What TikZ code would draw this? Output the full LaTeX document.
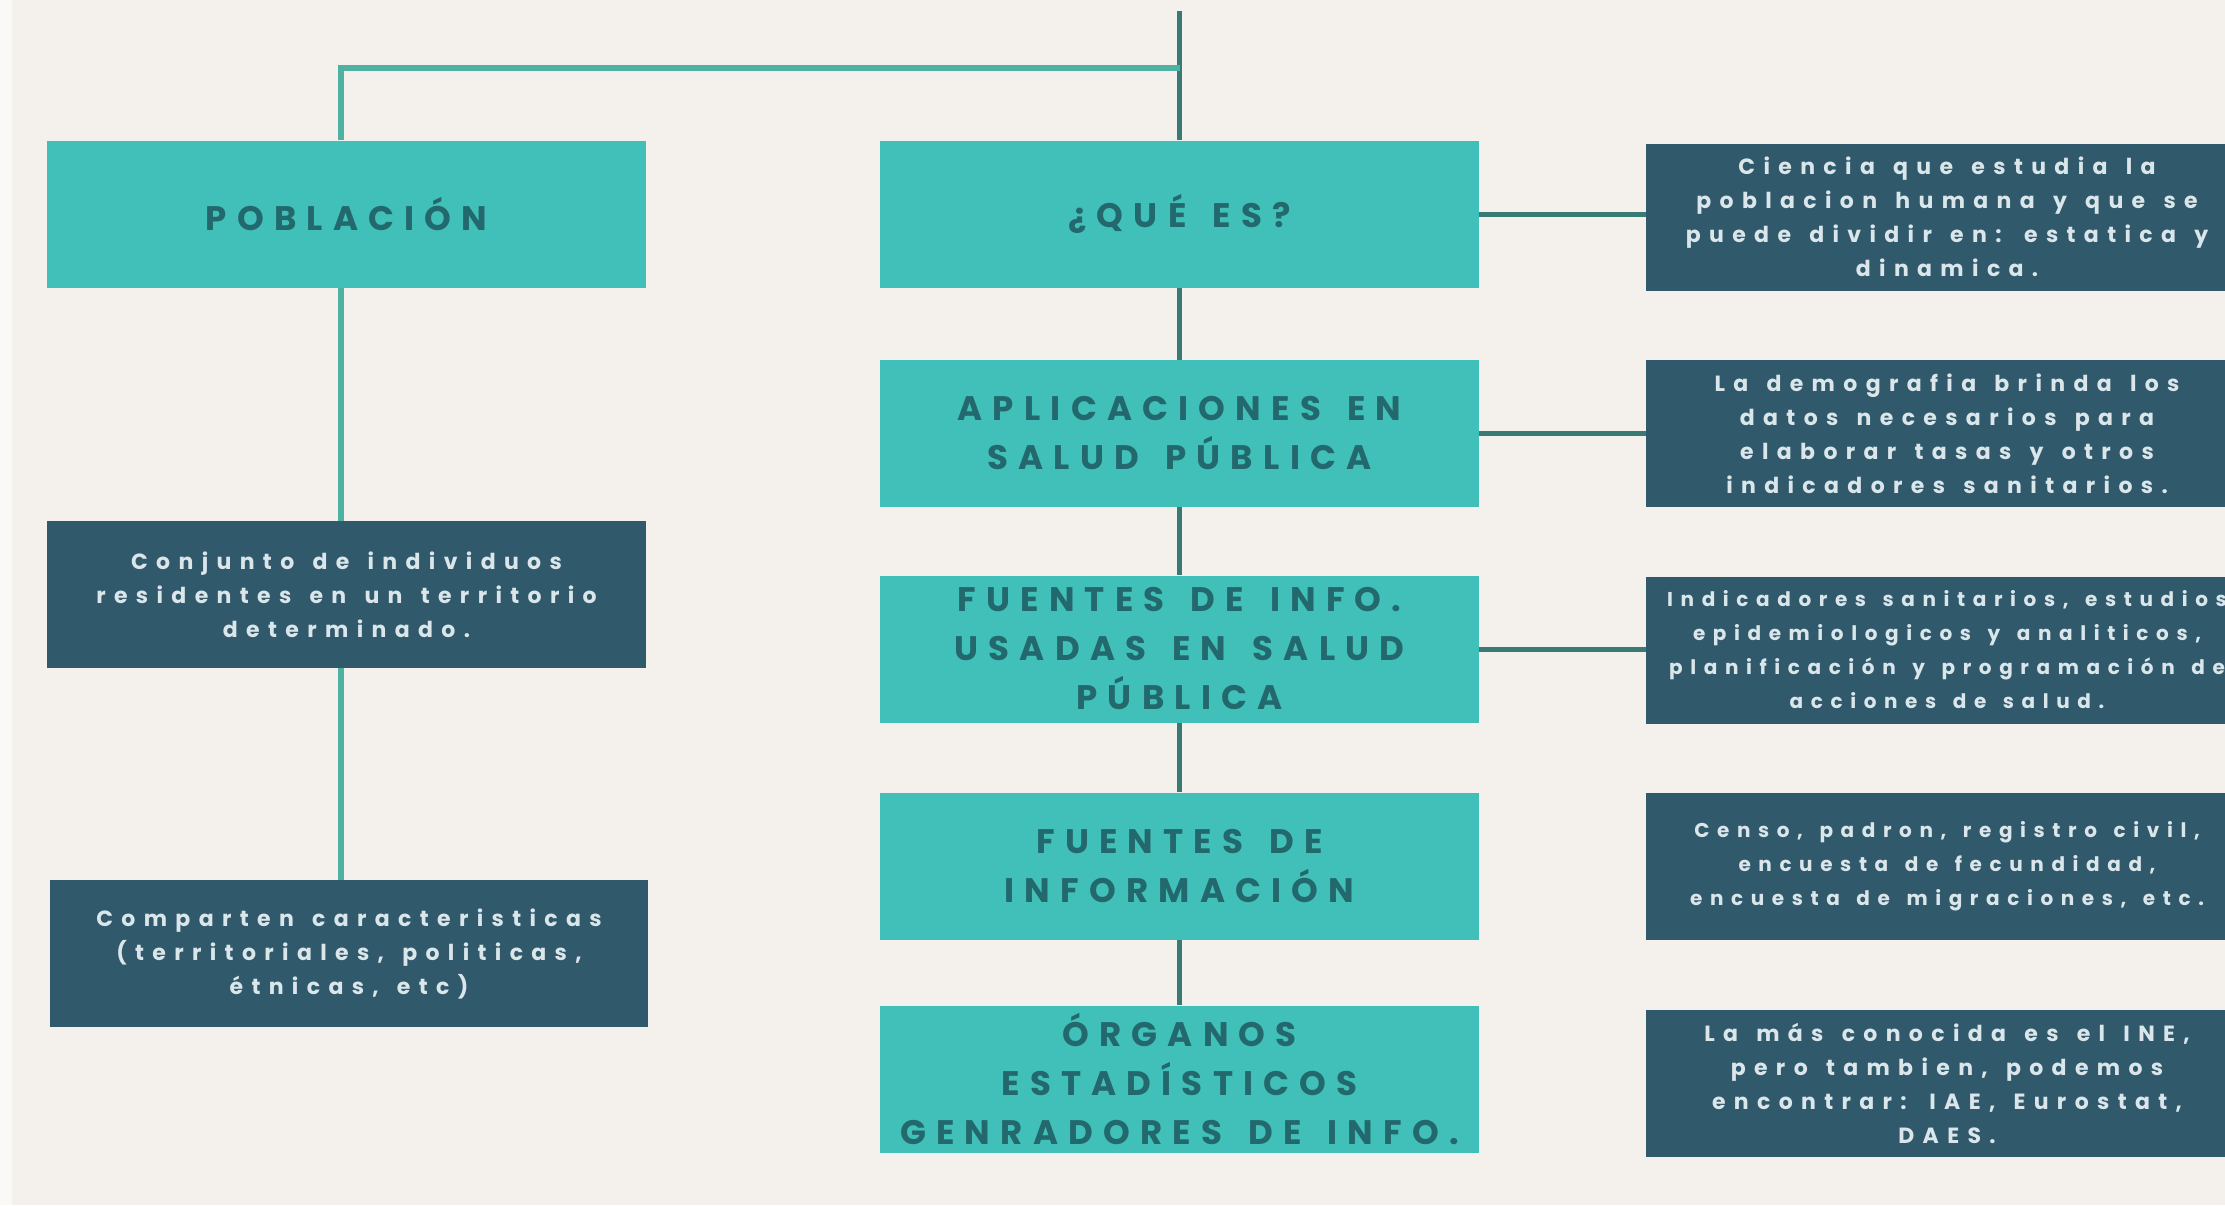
\documentclass[tikz,border=0pt]{standalone}
\usepackage{fontspec}
\newfontfamily\tfont[LetterSpace=30,WordSpace=1.5]{Poppins}
\newfontfamily\bfont[LetterSpace=38,WordSpace=1.4]{Poppins}
\definecolor{bgc}{RGB}{244,241,236}
\definecolor{tealbox}{RGB}{64,192,184}
\definecolor{darkbox}{RGB}{48,89,108}
\definecolor{ttext}{RGB}{34,104,108}
\definecolor{btext}{RGB}{218,230,234}
\definecolor{linelight}{RGB}{78,178,162}
\definecolor{linedark}{RGB}{58,122,116}
\tikzset{
  titlebox/.style={fill=tealbox, draw=none, minimum width=599pt, minimum height=147pt,
    inner sep=0pt, align=center, text=ttext,
    font=\tfont\bfseries\fontsize{34}{49}\selectfont},
  infobox/.style={fill=darkbox, draw=none, minimum width=600pt, minimum height=147pt,
    inner sep=0pt, align=center, text=btext,
    font=\bfont\bfseries\fontsize{22}{34}\selectfont},
  smallinfo/.style={font=\bfont\bfseries\fontsize{20}{34}\selectfont},
  lightline/.style={draw=linelight, line width=6pt},
  darkline/.style={draw=linedark, line width=5pt},
}
\begin{document}
\begin{tikzpicture}[x=1pt,y=-1pt]
\useasboundingbox (0,0) rectangle (2225,1205);
\clip (0,0) rectangle (2225,1205);
\fill[bgc] (0,0) rectangle (2225,1205);
\fill[white!60!bgc] (0,0) rectangle (12,1205);

% left column
\node[titlebox] (pob) at (346.5,214) {POBLACIÓN};
\node[infobox, minimum width=599pt] (conj) at (346.5,594.5) {Conjunto de individuos\\residentes en un territorio\\determinado.};
\node[infobox, minimum width=598pt] (comp) at (349,953.5) {Comparten caracteristicas\\(territoriales, politicas,\\étnicas, etc)};

% middle column
\node[titlebox] (que) at (1179.5,214) {¿QUÉ ES?};
\node[titlebox] (apl) at (1179.5,433.5) {APLICACIONES EN\\SALUD PÚBLICA};
\node[titlebox] (fui) at (1179.5,649) {FUENTES DE INFO.\\USADAS EN SALUD\\PÚBLICA};
\node[titlebox] (fin) at (1179.5,866) {FUENTES DE\\INFORMACIÓN};
\node[titlebox] (org) at (1179.5,1079) {ÓRGANOS\\ESTADÍSTICOS\\GENRADORES DE INFO.};

% right column
\node[infobox, minimum width=602pt] (r1) at (1947,217) {Ciencia que estudia la\\poblacion humana y que se\\puede dividir en: estatica y\\dinamica.};
\node[infobox, minimum width=602pt] (r2) at (1947,433.5) {La demografia brinda los\\datos necesarios para\\elaborar tasas y otros\\indicadores sanitarios.};
\node[infobox, smallinfo, minimum width=602pt] (r3) at (1947,650) {Indicadores sanitarios, estudios\\epidemiologicos y analiticos,\\planificación y programación de\\acciones de salud.};
\node[infobox, smallinfo, minimum width=602pt] (r4) at (1947,866) {Censo, padron, registro civil,\\encuesta de fecundidad,\\encuesta de migraciones, etc.};
\node[infobox, minimum width=602pt] (r5) at (1947,1083) {La más conocida es el INE,\\pero tambien, podemos\\encontrar: IAE, Eurostat,\\DAES.};

% connectors
\coordinate (topend) at (1179.5,11);
\coordinate (junc) at (1179.5,68);
\coordinate (lcol) at (341,68);
\draw[darkline] (topend) -- (que.north);
\draw[lightline] (junc) -- (lcol) -- (lcol |- pob.north);
\draw[lightline] (lcol |- pob.south) -- (lcol |- conj.north);
\draw[lightline] (lcol |- conj.south) -- (lcol |- comp.north);
\draw[darkline] (que.south) -- (apl.north);
\draw[darkline] (apl.south) -- (fui.north);
\draw[darkline] (fui.south) -- (fin.north);
\draw[darkline] (fin.south) -- (org.north);
\draw[darkline] (que.east) -- (que.east -| r1.west);
\draw[darkline] (apl.east) -- (apl.east -| r2.west);
\draw[darkline] (fui.east) -- (fui.east -| r3.west);
\end{tikzpicture}
\end{document}
